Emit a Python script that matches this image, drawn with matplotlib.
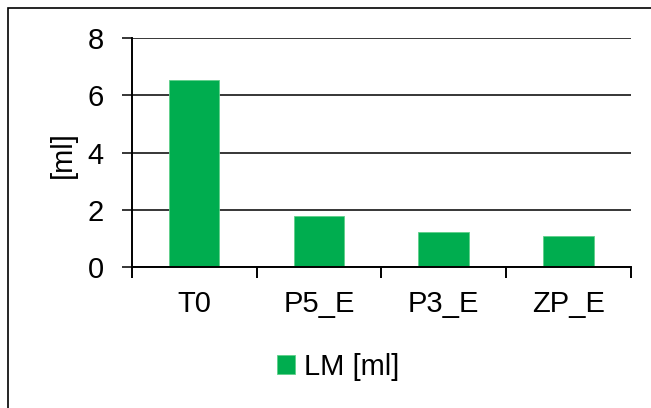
import matplotlib.pyplot as plt
from matplotlib.patches import Rectangle

categories = ["T0", "P5_E", "P3_E", "ZP_E"]
lm_values = [6.55, 1.78, 1.22, 1.08]
y_ticks = [0, 2, 4, 6, 8]
series_label = "LM [ml]"
y_label = "[ml]"

W, H = 651, 408
plt.rcParams['font.family'] = ['Liberation Sans', 'DejaVu Sans']

fig = plt.figure(figsize=(W / 100, H / 100), dpi=100)
fig.patch.set_facecolor("white")

# outer chart border (only left/top visible in the reference)
fig.patches.append(Rectangle((8 / W, -0.02), 1.1, 1 - 8 / H + 0.02,
                             transform=fig.transFigure, fill=False,
                             edgecolor="black", linewidth=1.2))

left, right, top, bottom = 131.7, 631, 38.3, 266.7
ax = fig.add_axes([left / W, 1 - bottom / H, (right - left) / W, (bottom - top) / H])

centers = [i + 0.5 for i in range(len(categories))]
ax.bar(centers, lm_values, width=0.405, color="#00AD4F",
       edgecolor="#5FD08A", linewidth=0.6, label=series_label, zorder=3)

ax.set_xlim(0, len(categories))
ax.set_ylim(0, 8)
ax.set_yticks(y_ticks)
ax.set_yticklabels([str(t) for t in y_ticks], fontsize=21)
ax.yaxis.grid(True, color="black", linewidth=1.1, zorder=1)
ax.tick_params(axis="y", length=7.2, width=1.1, pad=13, direction="out")

# category boundaries as major ticks, labels on minor ticks
ax.set_xticks(range(len(categories) + 1))
ax.set_xticklabels([])
ax.set_xticks(centers, minor=True)
ax.set_xticklabels(categories, minor=True, fontsize=21)
ax.tick_params(axis="x", which="major", length=8, width=1.4, direction="out")
ax.tick_params(axis="x", which="minor", length=0, pad=17)

for s in ["top", "right"]:
    ax.spines[s].set_visible(False)
for s in ["left", "bottom"]:
    ax.spines[s].set_linewidth(1.4)
    ax.spines[s].set_zorder(4)

fig.text(63 / W, 1 - 155 / H, y_label, rotation=90, ha="center", va="center", fontsize=21)

ax.legend(loc="center", bbox_to_anchor=(338.5 / W, 1 - 367 / H),
          bbox_transform=fig.transFigure, frameon=False, fontsize=21,
          handlelength=0.62, handleheight=0.62, handletextpad=0.3, borderpad=0)

fig.savefig("out.png", dpi=100)
